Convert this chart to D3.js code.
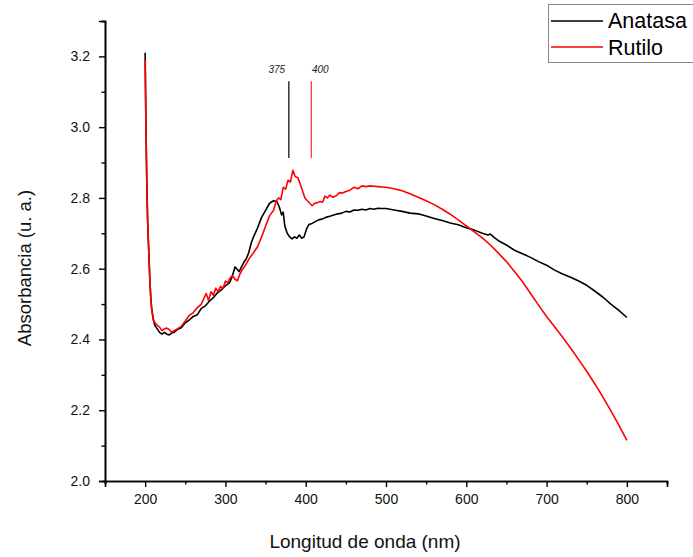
<!DOCTYPE html>
<html>
<head>
<meta charset="utf-8">
<script src="https://cdn.jsdelivr.net/npm/d3@7"></script>
<style>
  body { margin: 0; background: #fff; }
  svg { font-family: "Liberation Sans", Arial, sans-serif; }
</style>
</head>
<body>
<svg id="chart" width="693" height="557"></svg>
<script>
// longitud de onda (nm) y absorbancia
var anatasaX = [200,201,202,203,204,205,206,207,208,210,212,215,218,221,224,227,230,233,236,240,245,250,255,260,265,270,275,280,285,290,295,300,305,308,312,314,317,320,323,326,329,332,335,340,345,350,355,360,364,367,370,372,374,377,380,383,386,389,392,395,398,401,404,408,412,416,420,425,430,435,440,445,450,455,460,465,470,475,480,485,490,495,500,510,520,530,540,550,560,570,580,590,600,610,620,627,630,635,640,650,660,670,680,690,700,710,720,730,740,750,760,770,780,790,800]
var anatasaY = [3.21,3.0,2.85,2.74,2.68,2.62,2.56,2.52,2.49,2.46,2.44,2.43,2.42,2.415,2.42,2.415,2.413,2.418,2.42,2.428,2.433,2.447,2.455,2.465,2.47,2.488,2.495,2.508,2.518,2.532,2.54,2.552,2.56,2.575,2.605,2.60,2.592,2.605,2.618,2.628,2.645,2.672,2.69,2.715,2.745,2.765,2.785,2.792,2.79,2.775,2.752,2.76,2.72,2.70,2.69,2.684,2.69,2.686,2.695,2.686,2.69,2.712,2.725,2.728,2.733,2.738,2.74,2.745,2.748,2.752,2.755,2.757,2.762,2.76,2.766,2.765,2.768,2.766,2.77,2.768,2.771,2.77,2.77,2.766,2.762,2.757,2.755,2.749,2.742,2.736,2.729,2.724,2.716,2.709,2.70,2.695,2.698,2.688,2.679,2.667,2.652,2.642,2.632,2.62,2.61,2.596,2.585,2.576,2.565,2.553,2.537,2.52,2.50,2.482,2.462]

var rutiloX = [200,201,202,203,204,205,206,207,208,210,212,215,218,221,224,227,230,233,236,240,245,250,255,260,265,270,273,276,279,282,285,288,291,294,297,300,303,306,309,312,315,318,321,325,330,335,340,345,350,355,360,363,366,369,372,375,378,381,384,387,390,393,396,399,402,405,408,411,414,418,421,424,427,430,434,438,442,446,450,455,460,465,470,475,480,485,490,495,500,510,520,530,540,550,560,570,580,590,600,610,620,630,640,650,660,670,680,690,700,710,720,730,740,750,760,770,780,790,800]
var rutiloY = [3.19,3.0,2.86,2.75,2.68,2.62,2.56,2.52,2.49,2.455,2.448,2.44,2.435,2.425,2.43,2.432,2.428,2.42,2.425,2.43,2.437,2.452,2.468,2.476,2.49,2.50,2.515,2.53,2.51,2.535,2.525,2.545,2.535,2.55,2.545,2.565,2.56,2.575,2.58,2.57,2.566,2.585,2.597,2.61,2.63,2.645,2.662,2.69,2.72,2.75,2.765,2.79,2.80,2.795,2.83,2.825,2.85,2.845,2.878,2.86,2.858,2.84,2.82,2.80,2.792,2.785,2.778,2.785,2.786,2.79,2.788,2.805,2.80,2.808,2.802,2.806,2.815,2.814,2.818,2.822,2.83,2.826,2.834,2.832,2.834,2.833,2.832,2.831,2.83,2.826,2.82,2.812,2.802,2.792,2.781,2.768,2.754,2.738,2.721,2.704,2.687,2.667,2.644,2.62,2.592,2.563,2.53,2.497,2.465,2.436,2.406,2.375,2.343,2.31,2.275,2.238,2.199,2.158,2.115]

var seriesNames = ["Anatasa", "Rutilo"]
var seriesColors = ["#000000", "#ff0000"]

// marcas de los picos
var peakX = [379, 407]
var peakLabels = ["375", "400"]
var peakColors = ["#000000", "#ff3333"]
var peakY = [2.913, 3.13]

var xMajor = [200,300,400,500,600,700,800]
var xMinor = [150,250,350,450,550,650,750,850]
var yMajor = [2.0,2.2,2.4,2.6,2.8,3.0,3.2]
var yMinor = [2.1,2.3,2.5,2.7,2.9,3.1,3.3]

var svg = d3.select("#chart")
var x = d3.scaleLinear().domain([150, 850]).range([105, 667])
var y = d3.scaleLinear().domain([2.0, 3.3]).range([481, 21])

// ejes
var xAxis = d3.axisBottom(x).tickValues(xMajor).tickSize(6).tickPadding(7).tickFormat(d3.format("d"))
var xAxisMinor = d3.axisBottom(x).tickValues(xMinor).tickSize(3.5).tickFormat("")
var yAxis = d3.axisLeft(y).tickValues(yMajor).tickSize(6).tickPadding(9).tickFormat(d3.format(".1f"))
var yAxisMinor = d3.axisLeft(y).tickValues(yMinor).tickSize(3.5).tickFormat("")

function styleAxis(g) {
  g.select(".domain").attr("stroke", "#000").attr("stroke-width", 1.6)
  g.selectAll(".tick line").attr("stroke", "#000").attr("stroke-width", 1.4)
  g.selectAll(".tick text").attr("font-size", 14).attr("fill", "#111")
    .attr("font-family", "'Liberation Sans', Arial, sans-serif")
}

svg.append("g").attr("transform", "translate(0,481)").call(xAxisMinor).call(styleAxis)
svg.append("g").attr("transform", "translate(0,481)").call(xAxis).call(styleAxis)
svg.append("g").attr("transform", "translate(105,0)").call(yAxisMinor).call(styleAxis)
svg.append("g").attr("transform", "translate(105,0)").call(yAxis).call(styleAxis)

// curvas
var line = d3.line().x(d => x(d[0])).y(d => y(d[1]))
var series = [
  d3.zip(anatasaX, anatasaY),
  d3.zip(rutiloX, rutiloY)
]
series.forEach(function(s, i) {
  svg.append("path")
    .datum(s)
    .attr("fill", "none")
    .attr("stroke", seriesColors[i])
    .attr("stroke-width", 1.6)
    .attr("stroke-linejoin", "round")
    .attr("d", line)
})

// lineas de los picos
peakX.forEach(function(p, i) {
  svg.append("line")
    .attr("x1", x(p)).attr("x2", x(p))
    .attr("y1", y(peakY[0])).attr("y2", y(peakY[1]))
    .attr("stroke", peakColors[i]).attr("stroke-width", 1.2)
  svg.append("text")
    .attr("x", x(p) + (i == 0 ? -12 : 9))
    .attr("y", 73)
    .attr("text-anchor", "middle")
    .attr("font-size", 10)
    .attr("font-style", "italic")
    .attr("fill", "#222")
    .text(peakLabels[i])
})

// titulos
svg.append("text")
  .attr("x", 365).attr("y", 548)
  .attr("text-anchor", "middle")
  .attr("font-size", 19)
  .attr("fill", "#111")
  .text("Longitud de onda (nm)")

svg.append("text")
  .attr("transform", "translate(31,268) rotate(-90)")
  .attr("text-anchor", "middle")
  .attr("font-size", 18.5)
  .attr("fill", "#111")
  .text("Absorbancia (u. a.)")

// leyenda
var legend = svg.append("g")
legend.append("rect")
  .attr("x", 548.5).attr("y", 4.5).attr("width", 160).attr("height", 58)
  .attr("fill", "#fff").attr("stroke", "#888").attr("stroke-width", 1)
seriesNames.forEach(function(n, i) {
  legend.append("line")
    .attr("x1", 551).attr("x2", 603)
    .attr("y1", 21 + i * 26).attr("y2", 21 + i * 26)
    .attr("stroke", seriesColors[i]).attr("stroke-width", 1.6)
  legend.append("text")
    .attr("x", 608).attr("y", 28 + i * 27)
    .attr("font-size", 21.5)
    .attr("fill", "#000")
    .text(n)
})
</script>
</body>
</html>
